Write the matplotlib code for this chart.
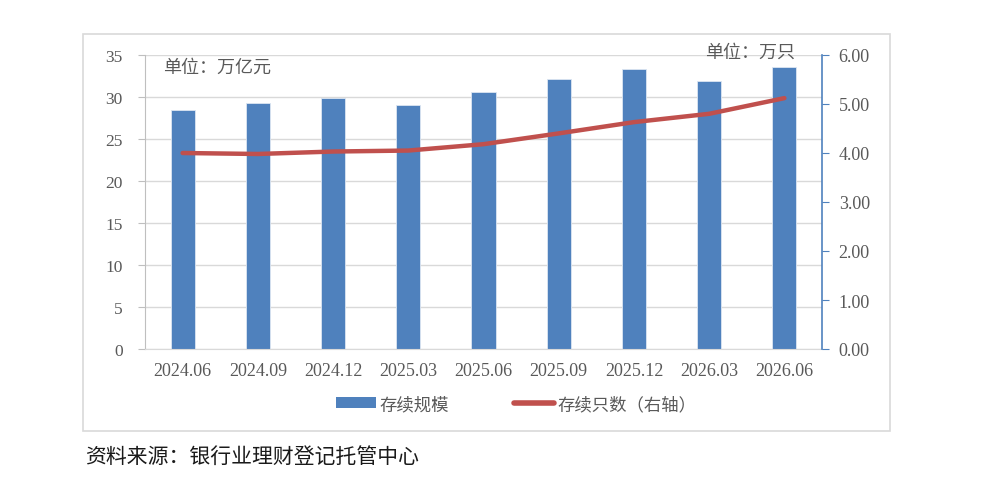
import matplotlib
matplotlib.use("Agg")
import matplotlib.pyplot as plt
from matplotlib.patches import Rectangle
from matplotlib.lines import Line2D
from matplotlib.patches import Patch

categories = ["2024.06", "2024.09", "2024.12", "2025.03", "2025.06",
              "2025.09", "2025.12", "2026.03", "2026.06"]
scale_values = [28.5, 29.3, 29.9, 29.1, 30.6, 32.1, 33.3, 31.9, 33.6]   # 万亿元
count_values = [4.00, 3.98, 4.03, 4.05, 4.18, 4.40, 4.63, 4.80, 5.12]  # 万只
left_ticks = [0, 5, 10, 15, 20, 25, 30, 35]
right_ticks = [0, 1, 2, 3, 4, 5, 6]

CJK = ["Noto Sans CJK SC", "DejaVu Sans"]
SERIF = ["Liberation Serif", "DejaVu Serif"]
BLUE = "#4F81BD"
RED = "#C0504D"
TXT = "#595959"

fig = plt.figure(figsize=(9.97, 4.81), dpi=100)
fig.patches.append(Rectangle((83/997, 1-432/481), (890-83)/997, (432-35)/481,
                             transform=fig.transFigure, fill=False,
                             edgecolor="#D9D9D9", linewidth=1.2))

ax = fig.add_axes([145/997, 1-350/481, (822-145)/997, (350-56)/481])
x = list(range(len(categories)))
ax.bar(x, scale_values, width=0.32, color=BLUE, edgecolor="#DCE6F2", linewidth=0.6, zorder=2)
ax.set_xlim(-0.5, len(categories)-0.5)
ax.set_ylim(0, 35)
ax.set_yticks(left_ticks)
ax.set_yticklabels([str(t) for t in left_ticks], family=SERIF, fontsize=12.5, color=TXT)
ax.set_xticks(x)
ax.set_xticklabels(categories, family=SERIF, fontsize=13, color=TXT)
ax.tick_params(axis="x", length=0, pad=9)
ax.tick_params(axis="y", length=5, color="#BFBFBF", pad=11)
ax.grid(axis="y", color="#D9D9D9", linewidth=1, zorder=0)
ax.set_axisbelow(True)
for s in ["top", "right"]:
    ax.spines[s].set_visible(False)
ax.spines["left"].set_color("#BFBFBF")
ax.spines["bottom"].set_color("#D9D9D9")

ax2 = ax.twinx()
ax2.plot(x, count_values, color=RED, linewidth=3.2, solid_capstyle="round", zorder=3)
ax2.set_ylim(0, 6)
ax2.set_yticks(right_ticks)
ax2.set_yticklabels([f"{t:.2f}" for t in right_ticks], family=SERIF, fontsize=13, color=TXT)
ax2.tick_params(axis="y", length=5, color=BLUE, pad=7)
for s in ["top", "left", "bottom"]:
    ax2.spines[s].set_visible(False)
ax2.spines["right"].set_color(BLUE)
ax2.spines["right"].set_linewidth(1.2)

fig.text(163/997, 1-68/481, "单位：万亿元", family=CJK, fontsize=13, color=TXT, va="center", ha="left")
fig.text(795/997, 1-53/481, "单位：万只", family=CJK, fontsize=13, color=TXT, va="center", ha="right")

handles = [Patch(facecolor=BLUE, edgecolor="none"),
           Line2D([0], [0], color=RED, linewidth=4, solid_capstyle="round")]
leg = fig.legend(handles, ["存续规模", "存续只数（右轴）"], loc="center left",
                 bbox_to_anchor=(336/997, 1-405/481), ncol=2, frameon=False,
                 prop={"family": CJK, "size": 12.5}, handlelength=2.3, handleheight=0.6,
                 handletextpad=0.2, columnspacing=3.75, borderpad=0, borderaxespad=0)
for t in leg.get_texts():
    t.set_color(TXT)

fig.text(85/997, 1-457/481, "资料来源：银行业理财登记托管中心", family=CJK, fontsize=15,
         color="#1A1A1A", va="center", ha="left")

fig.savefig("out.png", dpi=100)
